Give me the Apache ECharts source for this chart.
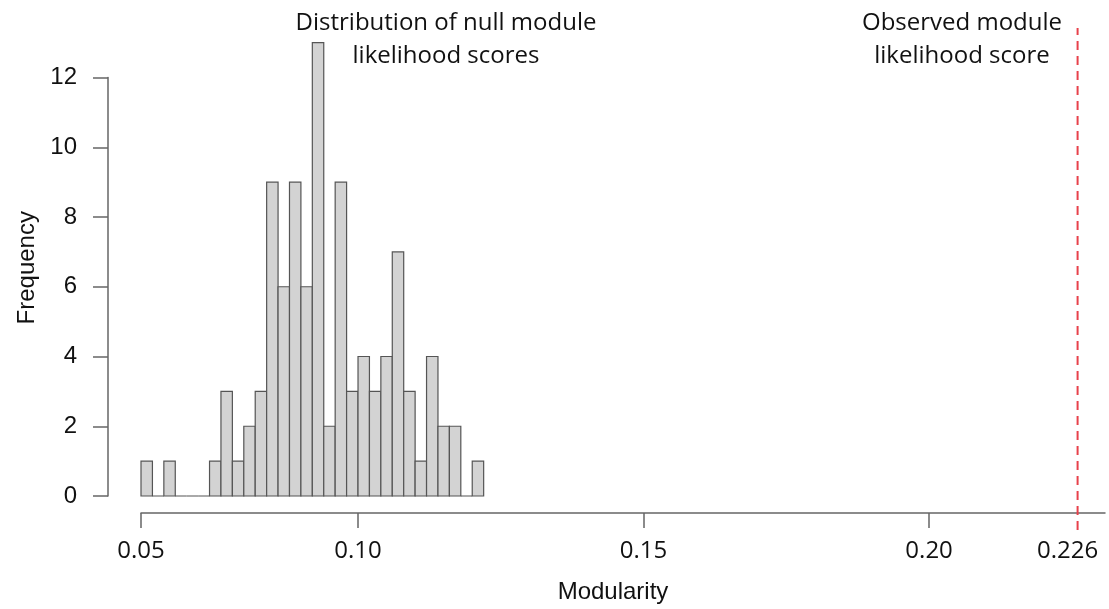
<!DOCTYPE html>
<html>
<head>
<meta charset="utf-8">
<title>Null module likelihood scores</title>
<script src="https://cdn.jsdelivr.net/npm/echarts@6/dist/echarts.min.js"></script>
<style>
  html, body { margin: 0; padding: 0; background: #fff; }
  #chart { width: 1109px; height: 609px; }
</style>
</head>
<body>
<div id="chart"></div>
<script>
// histogram bins (left edge, bin width 0.002)
const binStarts = [
  0.062, 0.064, 0.066, 0.068, 0.070, 0.072, 0.074, 0.076, 0.078, 0.080,
  0.082, 0.084, 0.086, 0.088, 0.090, 0.092, 0.094, 0.096, 0.098, 0.100,
  0.102, 0.104, 0.106, 0.108, 0.110, 0.112, 0.114, 0.116, 0.118, 0.120,
]
const binWidth = 0.002
const counts = [
  1, 0, 1, 0, 0, 0, 1, 3, 1, 2,
  3, 9, 6, 9, 6, 13, 2, 9, 3, 4,
  3, 4, 7, 3, 1, 4, 2, 2, 0, 1,
]

// observed score
const observed = 0.226

// x axis ticks / labels (first tick sits at the start of the axis)
const tickValues = [0.062, 0.10, 0.15, 0.20]
const labelValues = [0.062, 0.10, 0.15, 0.20, 0.226]
const labelTexts = ['0.05', '0.10', '0.15', '0.20', '0.226']

const xMin = 0.062
const xMax = 0.2308

const histData = binStarts.map((b, i) => [b, b + binWidth, counts[i]])

const chart = echarts.init(document.getElementById('chart'))

const axisColor = '#666'
const myriad = '"Open Sans", sans-serif'
const helv = '"Liberation Sans", Arial, sans-serif'

const option = {
  backgroundColor: '#fff',
  animation: false,
  grid: [
    // histogram area
    { left: 141, right: 4, top: 77.5, bottom: 112 },
    // area for the observed line (runs past the plot)
    { left: 141, right: 4, top: 28, bottom: 79 },
  ],
  xAxis: [
    {
      type: 'value',
      gridIndex: 0,
      min: xMin,
      max: xMax,
      offset: 17,
      name: 'Modularity',
      nameLocation: 'middle',
      nameGap: 67,
      nameTextStyle: {
        fontFamily: helv,
        fontSize: 24,
        color: '#111',
        padding: [0, 20, 0, 0],
      },
      axisLine: { show: true, onZero: false, lineStyle: { color: axisColor, width: 1.5 } },
      axisTick: {
        show: true,
        length: 15,
        customValues: tickValues,
        lineStyle: { color: axisColor, width: 1.5 },
      },
      axisLabel: {
        margin: 26,
        customValues: labelValues,
        fontFamily: myriad,
        fontSize: 24,
        color: '#111',
        formatter: (v) => {
          const i = labelValues.findIndex((x) => Math.abs(x - v) < 1e-9)
          if (i === labelValues.length - 1) return '{r|' + labelTexts[i] + '}'
          return i >= 0 ? labelTexts[i] : ''
        },
        rich: {
          r: {
            fontFamily: myriad,
            fontSize: 24,
            color: '#111',
            padding: [0, 20, 0, 0],
          },
        },
      },
      splitLine: { show: false },
    },
    {
      type: 'value',
      gridIndex: 1,
      min: xMin,
      max: xMax,
      show: false,
    },
  ],
  yAxis: [
    {
      type: 'value',
      gridIndex: 0,
      min: 0,
      max: 12,
      interval: 2,
      offset: 33,
      name: 'Frequency',
      nameLocation: 'middle',
      nameRotate: 90,
      nameGap: 68,
      nameTextStyle: {
        fontFamily: helv,
        fontSize: 24,
        color: '#111',
        padding: [0, 0, 0, 38],
      },
      axisLine: { show: true, onZero: false, lineStyle: { color: axisColor, width: 1.5 } },
      axisTick: { show: true, length: 15, lineStyle: { color: axisColor, width: 1.5 } },
      axisLabel: {
        margin: 31,
        fontFamily: helv,
        fontSize: 24,
        color: '#111',
      },
      splitLine: { show: false },
    },
    {
      type: 'value',
      gridIndex: 1,
      min: 0,
      max: 1,
      show: false,
    },
  ],
  graphic: [
    {
      type: 'text',
      x: 446,
      y: 7,
      style: {
        text: 'Distribution of null module\nlikelihood scores',
        fontFamily: myriad,
        fontSize: 24,
        lineHeight: 33,
        fill: '#111',
        align: 'center',
        verticalAlign: 'top',
      },
    },
    {
      type: 'text',
      x: 962,
      y: 7,
      style: {
        text: 'Observed module\nlikelihood score',
        fontFamily: myriad,
        fontSize: 24,
        lineHeight: 33,
        fill: '#111',
        align: 'center',
        verticalAlign: 'top',
      },
    },
  ],
  series: [
    {
      name: 'null',
      type: 'custom',
      xAxisIndex: 0,
      yAxisIndex: 0,
      clip: false,
      data: histData,
      renderItem: (params, api) => {
        const p0 = api.coord([api.value(0), api.value(2)])
        const p1 = api.coord([api.value(1), 0])
        return {
          type: 'rect',
          shape: { x: p0[0], y: p0[1], width: p1[0] - p0[0], height: p1[1] - p0[1] },
          style: { fill: '#d3d3d3', stroke: '#555', lineWidth: 1.2 },
        }
      },
    },
    {
      name: 'observed',
      type: 'line',
      xAxisIndex: 1,
      yAxisIndex: 1,
      symbol: 'none',
      data: [[observed, 0], [observed, 1]],
      lineStyle: { color: '#e8414b', width: 2, type: [9, 6] },
    },
  ],
}

chart.setOption(option)
</script>
</body>
</html>
